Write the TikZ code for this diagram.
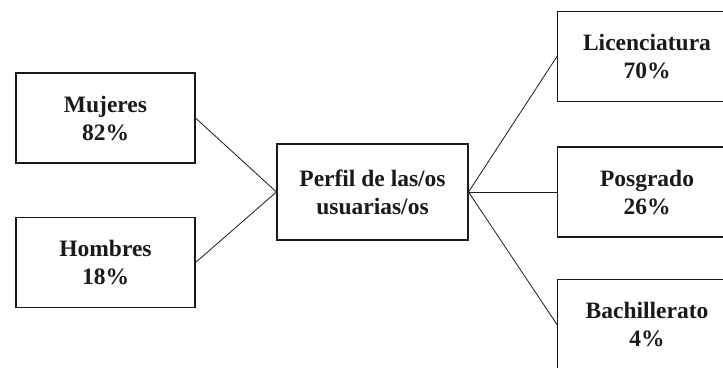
\documentclass[tikz,border=0pt]{standalone}
\usepackage{fontspec}
\setmainfont{Liberation Serif}
\usepackage{xcolor}
\usepackage{tikz}
\definecolor{ink}{HTML}{1A1A1A}
\definecolor{paper}{HTML}{FFFFFF}
\tikzset{
  box/.style={draw=ink, line width=1.1pt, minimum width=179pt, minimum height=90pt,
    align=center, inner sep=0pt, text=ink, font=\fontsize{23.5}{28}\selectfont\bfseries},
  link/.style={draw=ink, line width=0.8pt},
}

\begin{document}
\begin{tikzpicture}[x=1pt, y=-1pt]
  \useasboundingbox (0,0) rectangle (723,367);
  \fill[paper] (0,0) rectangle (723,367);
  \clip (0,0) rectangle (723,367);

  % left boxes
  \node[box] (mujeres) at (105.5,118) {Mujeres\\82\%};
  \node[box] (hombres) at (105.5,262.5) {Hombres\\18\%};

  % centre
  \node[box, minimum width=191pt, minimum height=96pt] (perfil) at (372.5,192) {Perfil de las/os\\usuarias/os};

  % right boxes (cut by the frame)
  \node[box] (lic) at (647,56.5) {Licenciatura\\70\%};
  \node[box] (pos) at (647,192) {Posgrado\\26\%};
  \node[box] (bach) at (647,324.5) {Bachillerato\\4\%};

  % connectors
  \draw[link] (mujeres.east) -- (perfil.west);
  \draw[link] (hombres.east) -- (perfil.west);
  \draw[link] (perfil.east) -- (lic.west);
  \draw[link] (perfil.east) -- (pos.west);
  \draw[link] (perfil.east) -- (bach.west);
\end{tikzpicture}
\end{document}
